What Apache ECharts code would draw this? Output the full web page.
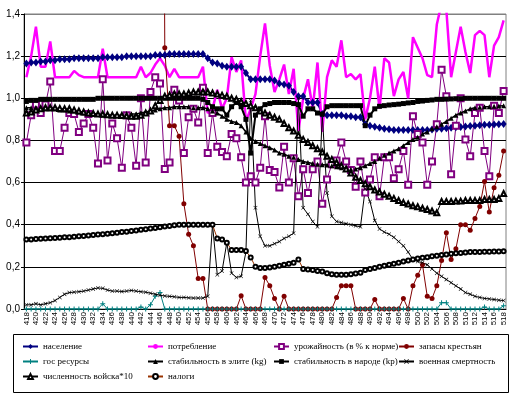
<!DOCTYPE html>
<html>
<head>
<meta charset="utf-8">
<script src="https://cdn.jsdelivr.net/npm/echarts@6/dist/echarts.min.js"></script>
<style>
  html, body { margin: 0; padding: 0; background: #fff; }
  #chart { width: 519px; height: 397px; }
</style>
</head>
<body>
<div id="chart"></div>
<script>
// years 418..518
const years = []
for (let y = 418; y <= 518; y++) years.push(String(y))

const population = [
  1.165, 1.17, 1.17, 1.175, 1.175, 1.18, 1.18, 1.185, 1.185, 1.185,
  1.19, 1.19, 1.19, 1.19, 1.19, 1.19, 1.195, 1.195, 1.195, 1.195,
  1.195, 1.2, 1.2, 1.2, 1.2, 1.2, 1.2, 1.205, 1.205, 1.205,
  1.21, 1.21, 1.21, 1.21, 1.21, 1.21, 1.21, 1.21, 1.19, 1.17,
  1.165, 1.155, 1.15, 1.15, 1.15, 1.15, 1.12, 1.09, 1.09, 1.09,
  1.09, 1.09, 1.085, 1.07, 1.065, 1.06, 1.03, 1.01, 1.01, 0.98,
  0.98, 0.98, 0.925, 0.92, 0.92, 0.92, 0.92, 0.915, 0.915, 0.91,
  0.91, 0.877, 0.87, 0.865, 0.86, 0.855, 0.853, 0.85, 0.85, 0.85,
  0.85, 0.85, 0.85, 0.85, 0.85, 0.852, 0.855, 0.855, 0.858, 0.86,
  0.862, 0.864, 0.866, 0.868, 0.87, 0.872, 0.874, 0.875, 0.876, 0.877,
  0.878
]

const consumption = [
  1.10, 1.20, 1.34, 1.15, 1.15, 1.27, 1.10, 1.10, 1.10, 1.10,
  1.13, 1.11, 1.10, 1.10, 1.10, 1.10, 1.235, 1.10, 1.10, 1.10,
  1.10, 1.10, 1.10, 1.10, 1.15, 1.10, 1.12, 1.16, 1.19, 1.155,
  1.10, 1.14, 1.10, 1.10, 1.10, 1.10, 1.10, 1.15, 0.93, 0.95,
  1.04, 0.95, 1.0, 1.195, 1.125, 1.18, 0.89, 0.95, 1.02, 1.2,
  1.355, 1.155, 1.03, 1.09, 1.16, 1.02, 1.14, 0.845, 1.0, 1.09,
  0.95, 1.17, 0.84, 1.10, 1.18, 1.15, 1.275, 1.10, 1.115, 1.09,
  1.115, 0.90, 1.0, 1.15, 0.95, 1.19, 1.17, 1.01, 1.09, 1.125,
  1.0, 1.29, 1.24, 1.19, 1.11, 1.10, 1.35, 1.45, 1.42, 1.10,
  1.22, 1.34, 1.22, 1.12, 1.30, 1.32, 1.30, 1.10, 1.25, 1.29,
  1.37
]

const harvest = [
  0.79, 0.92, 0.97, 0.93, 0.97, 1.08, 0.75, 0.75, 0.86, 0.93,
  0.925, 0.84, 0.88, 0.925, 0.86, 0.69, 1.09, 0.705, 0.88, 0.81,
  0.67, 0.92, 0.86, 0.68, 1.0, 0.695, 1.03, 1.1, 1.07, 0.665,
  0.695, 1.04, 0.99, 0.74, 0.91, 0.95, 0.885, 1.05, 0.74, 0.93,
  0.77, 0.745, 0.725, 0.83, 0.81, 0.72, 0.60, 0.63, 0.60, 0.67,
  0.915, 0.66, 0.65, 0.577, 0.77, 0.60, 0.715, 0.535, 0.663, 0.55,
  0.663, 0.70, 0.50, 0.615, 0.687, 0.705, 0.79, 0.70, 0.66, 0.58,
  0.70, 0.553, 0.615, 0.72, 0.535, 0.72, 0.72, 0.62, 0.663, 0.75,
  0.59, 0.915, 0.83, 0.79, 0.59, 0.70, 0.877, 1.135, 1.01, 0.64,
  0.87, 1.0, 0.805, 0.725, 0.93, 0.955, 0.75, 0.63, 0.965, 0.93,
  1.035
]

const peasantStock = [
  null, null, null, null, null, null, null, null, null, null,
  null, null, null, null, null, null, null, null, null, null,
  null, null, null, null, null, null, null, null, 6.0, 1.24,
  0.87, 0.87, 0.82, 0.50, 0.355, 0.30, 0.145, 0.145, 0, 0,
  0, 0, 0, 0, 0, 0.063, 0, 0, 0, 0,
  0.15, 0.11, 0.05, 0, 0.06, 0, 0, 0, 0, 0,
  0, 0, 0, 0, 0, 0.055, 0.11, 0.11, 0.11, 0,
  0, 0, 0, 0.045, 0, 0, 0, 0, 0, 0.05,
  0, 0.11, 0.16, 0.21, 0.06, 0.05, 0.11, 0.23, 0.362, 0.235,
  0.286, 0.40, 0.40, 0.374, 0.43, 0.486, 0.605, 0.46, 0.576, 0.635,
  0.75
]

const stateRes = [
  0, 0, 0, 0, 0, 0, 0, 0, 0, 0,
  0, 0, 0, 0, 0, 0, 0.025, 0, 0, 0,
  0, 0, 0, 0, 0.01, 0, 0.02, 0.06, 0.078, 0,
  0, 0, 0, 0, 0, 0, 0, 0, 0, 0,
  0, 0, 0, 0, 0, 0, 0, 0, 0, 0,
  0, 0, 0, 0, 0, 0, 0, 0, 0, 0,
  0, 0, 0, 0, 0, 0, 0, 0, 0, 0,
  0, 0, 0, 0, 0, 0, 0, 0, 0, 0,
  0, 0, 0, 0, 0, 0, 0, 0.03, 0.03, 0,
  0, 0, 0, 0, 0, 0, 0.01, 0, 0, 0,
  0.015
]

const eliteStab = [
  0.955, 0.955, 0.955, 0.955, 0.95, 0.95, 0.95, 0.945, 0.945, 0.94,
  0.94, 0.935, 0.93, 0.93, 0.925, 0.925, 0.92, 0.92, 0.92, 0.92,
  0.92, 0.92, 0.925, 0.925, 0.93, 0.935, 0.94, 0.945, 0.95, 0.955,
  0.955, 0.96, 0.96, 0.96, 0.96, 0.955, 0.955, 0.955, 0.95, 0.94,
  0.93, 0.915, 0.90, 0.89, 0.885, 0.87, 0.84, 0.81, 0.795, 0.785,
  0.775, 0.765, 0.755, 0.74, 0.735, 0.725, 0.72, 0.71, 0.70, 0.695,
  0.69, 0.687, 0.685, 0.683, 0.68, 0.675, 0.67, 0.665, 0.663, 0.665,
  0.67, 0.68, 0.69, 0.70, 0.715, 0.73, 0.74, 0.75, 0.76, 0.775,
  0.79, 0.805, 0.815, 0.83, 0.84, 0.855, 0.865, 0.877, 0.89, 0.905,
  0.92, 0.93, 0.94, 0.95, 0.955, 0.958, 0.96, 0.96, 0.962, 0.963,
  0.965
]

const peopleStab = [
  0.985, 0.99, 0.99, 0.995, 0.995, 0.995, 0.995, 0.995, 0.995, 0.995,
  0.995, 0.995, 0.995, 0.995, 0.995, 1.0, 1.0, 1.0, 1.0, 1.0,
  1.0, 1.0, 1.0, 1.0, 1.0, 1.0, 1.0, 1.0, 1.0, 1.0,
  1.0, 1.0, 1.0, 1.0, 1.0, 1.0, 1.0, 0.995, 0.98, 0.96,
  0.95, 0.95, 0.92, 0.96, 0.98, 0.96, 0.90, 0.74, 0.92, 0.95,
  0.97, 0.975, 0.98, 0.98, 0.98, 0.98, 0.975, 0.97, 0.915, 0.95,
  0.95, 0.93, 0.925, 0.96, 0.965, 0.965, 0.965, 0.965, 0.965, 0.965,
  0.965, 0.87, 0.92, 0.95, 0.962, 0.965, 0.968, 0.97, 0.972, 0.975,
  0.978, 0.98, 0.985, 0.987, 0.99, 0.992, 0.995, 0.995, 0.996, 0.997,
  0.998, 0.998, 1.0, 1.0, 1.0, 1.0, 1.0, 1.0, 1.0, 1.0,
  1.0
]

const warDeaths = [
  0.02, 0.02, 0.025, 0.02, 0.025, 0.03, 0.04, 0.055, 0.07, 0.078,
  0.08, 0.082, 0.085, 0.09, 0.095, 0.10, 0.098, 0.09, 0.085, 0.085,
  0.083, 0.085, 0.088, 0.085, 0.082, 0.08, 0.075, 0.07, 0.065, 0.062,
  0.06, 0.058, 0.055, 0.055, 0.053, 0.052, 0.052, 0.052, 0.06, 0.40,
  0.163, 0.18, 0.315, 0.17, 0.15, 0.155, 0.27, 0.99, 0.48, 0.345,
  0.30, 0.30, 0.31, 0.32, 0.335, 0.345, 0.36, 1.0, 0.48, 0.45,
  0.415, 0.39, 0.92, 0.55, 0.44, 0.415, 0.41, 0.405, 0.40, 0.395,
  0.39, 0.57, 0.51, 0.42, 0.38, 0.365, 0.355, 0.34, 0.32, 0.30,
  0.27, 0.235, 0.225, 0.22, 0.21, 0.19, 0.17, 0.155, 0.14, 0.125,
  0.11, 0.095, 0.078, 0.07, 0.06, 0.055, 0.05, 0.048, 0.045, 0.042,
  0.04
]

const army = [
  0.93, 0.935, 0.945, 0.95, 0.955, 0.955, 0.955, 0.952, 0.95, 0.95,
  0.945, 0.94, 0.935, 0.93, 0.928, 0.925, 0.925, 0.922, 0.92, 0.92,
  0.918, 0.917, 0.915, 0.915, 0.92, 0.93, 0.94, 0.965, 0.99, 1.01,
  1.015, 1.02, 1.02, 1.02, 1.025, 1.03, 1.03, 1.03, 1.03, 1.025,
  1.02, 1.015, 1.01, 1.0, 0.995, 0.985, 0.975, 0.965, 0.955, 0.94,
  0.93, 0.92, 0.91, 0.90, 0.88, 0.86, 0.845, 0.825, 0.805, 0.79,
  0.775, 0.76, 0.745, 0.725, 0.71, 0.695, 0.68, 0.665, 0.645, 0.625,
  0.61, 0.595, 0.58, 0.565, 0.555, 0.545, 0.535, 0.525, 0.515, 0.505,
  0.498, 0.49, 0.485, 0.478, 0.472, 0.465, 0.457, 0.51, 0.51, 0.51,
  0.512, 0.512, 0.515, 0.515, 0.515, 0.515, 0.52, 0.52, 0.52, 0.525,
  0.548
]

const taxes = [
  0.33, 0.33, 0.332, 0.333, 0.335, 0.336, 0.337, 0.338, 0.34, 0.341,
  0.343, 0.345, 0.347, 0.349, 0.351, 0.353, 0.355, 0.357, 0.36, 0.362,
  0.365, 0.367, 0.37, 0.373, 0.376, 0.379, 0.382, 0.385, 0.388, 0.391,
  0.394, 0.397, 0.40, 0.40, 0.40, 0.40, 0.40, 0.40, 0.40, 0.40,
  0.335, 0.33, 0.315, 0.28, 0.28, 0.28, 0.275, 0.245, 0.20, 0.195,
  0.195, 0.197, 0.20, 0.205, 0.21, 0.215, 0.22, 0.235, 0.19, 0.188,
  0.185, 0.18, 0.178, 0.17, 0.165, 0.163, 0.162, 0.163, 0.165, 0.168,
  0.172, 0.185, 0.19, 0.195, 0.20, 0.205, 0.21, 0.215, 0.22, 0.225,
  0.23, 0.235, 0.24, 0.243, 0.246, 0.25, 0.253, 0.256, 0.259, 0.262,
  0.264, 0.266, 0.268, 0.27, 0.27, 0.271, 0.272, 0.272, 0.273, 0.273,
  0.274
]

const yTicks = ['0,0', '0,2', '0,4', '0,6', '0,8', '1,0', '1,2', '1,4']

const plusPath = 'path://M4,0H6V10H4Z M0,4H10V6H0Z'
const crossPath = 'path://M0,1L1,0L5,4L9,0L10,1L6,5L10,9L9,10L5,6L1,10L0,9L4,5Z'

const chartInstance = echarts.init(document.getElementById('chart'))

function lineSeries (name, data, color, width, symbol, size, extra) {
  return Object.assign({
    type: 'line',
    name: name,
    data: data,
    symbol: symbol,
    symbolSize: size,
    showSymbol: symbol !== 'none',
    showAllSymbol: true,
    animation: false,
    lineStyle: { color: color, width: width },
    itemStyle: { color: color }
  }, extra || {})
}

const seriesArr = [
  lineSeries('население', population, '#000080', 2, 'diamond', [6, 8]),
  lineSeries('потребление', consumption, '#ff00ff', 2.5, 'none', 0),
  lineSeries('урожайность (в % к норме)', harvest, '#800080', 1, 'emptyRect', 6),
  lineSeries('запасы крестьян', peasantStock, '#800000', 1, 'circle', 5),
  lineSeries('гос ресурсы', stateRes, '#008080', 1, plusPath, 5),
  lineSeries('стабильность в элите (kg)', eliteStab, '#000000', 1.5, 'triangle', 5),
  lineSeries('стабильность в народе (kp)', peopleStab, '#000000', 2, 'rect', 5),
  lineSeries('военная смертность', warDeaths, '#000000', 1, crossPath, 4),
  lineSeries('численность войска*10', army, '#000000', 1, 'emptyTriangle', 5),
  lineSeries('налоги', taxes, '#000000', 1, 'emptyCircle', 4, {
    lineStyle: { color: '#993300', width: 1 }
  })
]

const legendText = { fontFamily: 'Liberation Serif', fontSize: 9, color: '#000' }
function legendCol (left, names) {
  return {
    orient: 'vertical',
    left: left,
    top: 342,
    padding: 0,
    itemWidth: 15,
    itemHeight: 6,
    itemGap: 6,
    selectedMode: false,
    textStyle: legendText,
    data: names
  }
}

const option = {
  backgroundColor: '#fff',
  animation: false,
  grid: {
    left: 24,
    top: 14,
    width: 482,
    height: 295,
    show: true,
    borderColor: '#808080',
    borderWidth: 1
  },
  xAxis: {
    type: 'category',
    data: years,
    boundaryGap: true,
    axisLine: { lineStyle: { color: '#000' } },
    axisTick: { interval: 0, length: 3, lineStyle: { color: '#000' } },
    axisLabel: {
      interval: 1,
      rotate: 90,
      fontSize: 8,
      fontFamily: 'Liberation Sans',
      color: '#000',
      margin: 3
    }
  },
  yAxis: {
    type: 'value',
    min: 0,
    max: 1.4,
    interval: 0.2,
    axisLine: { show: true, lineStyle: { color: '#000' } },
    axisTick: { show: true, length: 3, lineStyle: { color: '#000' } },
    axisLabel: {
      fontSize: 10,
      fontFamily: 'Liberation Sans',
      color: '#000',
      margin: 4,
      formatter: (v) => yTicks[Math.round(v / 0.2)]
    },
    splitLine: {
      lineStyle: {
        color: ['#000', '#000', '#000', '#000', '#000', '#000', '#000', '#808080'],
        width: 1
      }
    }
  },
  legend: [
    legendCol(22, ['население', 'гос ресурсы', 'численность войска*10']),
    legendCol(147, ['потребление', 'стабильность в элите (kg)', 'налоги']),
    legendCol(273, ['урожайность (в % к норме)', 'стабильность в народе (kp)']),
    legendCol(398, ['запасы крестьян', 'военная смертность'])
  ],
  graphic: [{
    type: 'rect',
    z: 0,
    shape: { x: 13.5, y: 334.5, width: 495, height: 58 },
    style: { fill: '#fff', stroke: '#000', lineWidth: 1 }
  }],
  series: seriesArr
}

chartInstance.setOption(option)
</script>
</body>
</html>
